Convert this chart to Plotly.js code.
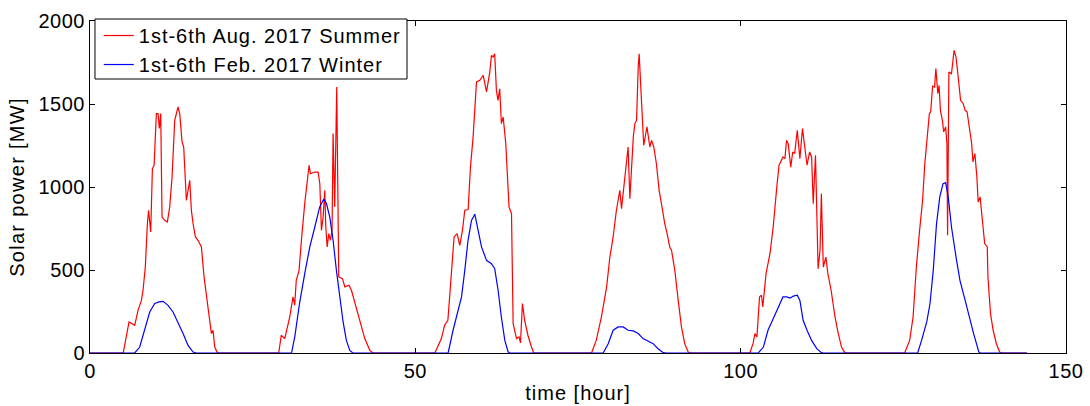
<!DOCTYPE html>
<html>
<head>
<meta charset="utf-8">
<script src="https://cdn.plot.ly/plotly-3.0.1.min.js"></script>
<style>
html,body{margin:0;padding:0;background:#fff}
#chart{width:1090px;height:406px}
#chart .legendtext{letter-spacing:1px}
#chart .legend .scrollbox{clip-path:none !important}
#chart .ytitle{letter-spacing:1.3px}
#chart .xtitle{letter-spacing:1px}
#chart .xtick text,#chart .ytick text{letter-spacing:0.5px}
</style>
</head>
<body>
<div id="chart"></div>
<script>
// ---- data ----
const seriesNames = ["1st-6th Aug. 2017 Summer", "1st-6th Feb. 2017 Winter"];

const summerTime = [0, 5.1, 6.0, 6.36, 6.87, 7.38, 7.9, 8.15, 8.5, 8.82, 9.0, 9.33, 9.59, 9.85, 10.2, 10.46, 10.66, 10.87, 11.07, 11.48, 11.89, 12.25, 12.61, 13.02, 13.53, 13.79, 14.15, 14.4, 14.81, 15.33, 15.58, 15.84, 16.2, 16.6, 17.12, 17.53, 18.04, 18.4, 18.66, 18.91, 19.17, 19.53, 19.8,
  29.0, 29.4, 29.93, 30.7, 31.2, 31.46, 31.7, 32.13, 32.49, 33.0, 33.67, 33.88, 34.55, 35.06, 35.32, 35.57, 35.83, 36.08, 36.24, 36.45, 36.7, 36.95, 37.2, 37.36, 37.61, 37.92, 38.23, 38.8, 39.17, 39.8, 40.18, 40.69, 41.46, 42.23, 43.0, 43.5,
  53.0, 54.0, 54.5, 55.0, 55.5, 55.96, 56.42, 56.83, 57.24, 57.6, 58.12, 58.47, 58.88, 59.4, 59.9, 60.43, 60.94, 61.45, 61.7, 61.96, 62.2, 62.46, 62.7, 62.97, 63.22, 63.5, 63.9, 64.1, 64.4, 64.78, 65.03, 65.55, 65.95, 66.16, 66.46, 66.8, 67.3, 67.85, 68.2,
  77.08, 77.8, 78.6, 79.4, 79.9, 80.4, 80.9, 81.43, 81.69, 82.1, 82.7, 82.97, 83.2, 83.5, 83.74, 84.0, 84.25, 84.4, 84.6, 84.9, 85.1, 85.6, 86.04, 86.3, 86.65, 87.05, 87.47, 87.82, 88.33, 88.7, 89.1, 89.37, 89.88, 90.4, 90.9, 91.4, 91.93, 92.2,
  101.4, 101.9, 102.2, 102.5, 102.9, 103.2, 103.4, 103.9, 104.5, 105.0, 105.2, 105.6, 105.9, 106.5, 106.8, 107.05, 107.3, 107.7, 108.0, 108.3, 108.7, 109.1, 109.5, 109.9, 110.2, 110.6, 110.9, 111.15, 111.5, 111.9, 112.2, 112.4, 112.7, 113.1, 113.4, 113.9, 114.5, 115.0, 115.5, 116.0, 116.3,
  125.2, 125.97, 126.5, 127.0, 127.5, 127.96, 128.3, 128.6, 129.0, 129.2, 129.5, 129.8, 130.0, 130.3, 130.5, 130.7, 131.0, 131.2, 131.5, 131.7, 131.8, 132.0, 132.4, 132.8, 133.1, 133.4, 133.8, 134.2, 134.5, 134.8, 135.1, 135.5, 135.7, 136.0, 136.3, 136.5, 136.8, 137.2, 137.5, 137.9, 138.0, 138.4, 138.8, 139.3, 139.8, 140.1, 144];
const summerPower = [0, 0, 187, 177, 167, 257, 317, 378, 518, 779, 860, 729, 1111, 1131, 1442, 1442, 1352, 1442, 819, 799, 789, 880, 1060, 1402, 1482, 1442, 1271, 1241, 920, 1040, 860, 779, 699, 679, 639, 458, 317, 197, 117, 137, 36, 6, 0,
  0, 107, 87, 217, 338, 288, 438, 498, 679, 900, 1131, 1080, 1090, 1090, 1020, 739, 819, 980, 759, 639, 719, 679, 739, 1322, 880, 1602, 458, 448, 398, 408, 378, 308, 187, 87, 16, 0,
  0, 87, 167, 197, 458, 699, 719, 649, 739, 860, 864, 1120, 1302, 1633, 1643, 1673, 1573, 1693, 1793, 1783, 1803, 1582, 1522, 1592, 1382, 1422, 1261, 1100, 880, 839, 177, 87, 97, 61, 298, 197, 107, 36, 0,
  0, 76, 217, 398, 578, 699, 860, 980, 870, 1040, 1241, 930, 1120, 1302, 1382, 1402, 1723, 1803, 1643, 1382, 1251, 1362, 1241, 1281, 1241, 1140, 980, 900, 779, 719, 639, 619, 498, 317, 157, 56, 6, 0,
  0, 56, 117, 97, 338, 348, 277, 478, 598, 759, 860, 1020, 1131, 1181, 1171, 1281, 1261, 1120, 1211, 1201, 1342, 1171, 1352, 1201, 1131, 1211, 1181, 900, 1191, 508, 619, 960, 518, 578, 478, 378, 217, 117, 36, 2, 0,
  0, 76, 217, 518, 739, 920, 1140, 1261, 1442, 1452, 1608, 1602, 1713, 1563, 1612, 1462, 1402, 1332, 1362, 1261, 709, 1693, 1683, 1823, 1783, 1673, 1522, 1502, 1462, 1452, 1362, 1261, 1151, 1201, 1060, 910, 940, 799, 659, 639, 458, 237, 137, 56, 6, 0, 0];

const winterTime = [0, 6.87, 7.64, 8.4, 9.18, 9.95, 10.6, 11.23, 11.99, 12.76, 13.53, 14.3, 15.07, 15.84, 16.35,
  30.97, 31.47, 32.2, 33.0, 33.78, 34.55, 35.3, 35.93, 36.34, 36.85, 37.36, 37.87, 38.39, 38.9, 39.4, 39.93, 40.4,
  55.04, 55.8, 56.55, 57.1, 57.6, 58.1, 58.63, 59.14, 59.65, 60.17, 60.94, 61.7, 62.2, 62.72, 63.22, 63.75, 64.27, 64.5,
  78.87, 79.64, 80.4, 81.17, 81.94, 82.7, 83.5, 84.25, 85.0, 85.8, 86.55, 87.3, 88.1, 88.6,
  102.7, 103.5, 104.2, 105.0, 105.8, 106.5, 107.05, 107.6, 108.1, 108.7, 109.1, 109.6, 110.2, 110.9, 111.7, 112.4, 112.7,
  127.2, 127.8, 128.6, 129.1, 129.6, 130.1, 130.6, 131.1, 131.5, 131.9, 132.4, 133.1, 133.7, 134.5, 135.0, 135.8, 136.6, 136.8, 144];
const winterPower = [0, 0, 36, 137, 247, 298, 308, 311, 287, 247, 187, 117, 46, 6, 0,
  0, 97, 298, 478, 639, 759, 880, 928, 900, 819, 679, 498, 338, 187, 76, 16, 0,
  0, 137, 257, 338, 498, 679, 799, 836, 739, 639, 558, 538, 508, 378, 217, 76, 6, 0,
  0, 56, 137, 157, 157, 137, 133, 117, 87, 70, 56, 26, 2, 0,
  0, 36, 137, 207, 277, 338, 338, 331, 343, 348, 317, 197, 137, 76, 26, 2, 0,
  0, 76, 187, 298, 498, 779, 940, 1020, 1027, 940, 759, 578, 438, 317, 237, 117, 6, 0, 0];

const xTicks = [0, 50, 100, 150];
const yTicks = [0, 500, 1000, 1500, 2000];
const xTitle = "time [hour]";
const yTitle = "Solar power [MW]";

// ---- chart ----
const fontFam = "Arial, 'Liberation Sans', Helvetica, sans-serif";
const traces = [
  {x: summerTime, y: summerPower, name: seriesNames[0], type: "scatter", mode: "lines",
   line: {color: "#ff0000", width: 1.2}},
  {x: winterTime, y: winterPower, name: seriesNames[1], type: "scatter", mode: "lines",
   line: {color: "#0000ff", width: 1.2}}
];
const axisCommon = {
  showline: true, linecolor: "#000", linewidth: 1, mirror: "ticks",
  ticks: "inside", ticklen: 5, tickcolor: "#000", tickwidth: 1,
  showgrid: false, zeroline: false,
  tickfont: {family: fontFam, size: 20, color: "#000"}
};
const layout = {
  width: 1090, height: 406,
  margin: {l: 90, r: 24, t: 21, b: 53},
  paper_bgcolor: "#fff", plot_bgcolor: "#fff",
  showlegend: true,
  font: {family: fontFam, color: "#000"},
  xaxis: Object.assign({}, axisCommon, {
    range: [0, 150], tickvals: xTicks, ticktext: xTicks.map(String),
    title: {text: xTitle, font: {family: fontFam, size: 20, color: "#000"}, standoff: 4}
  }),
  yaxis: Object.assign({}, axisCommon, {
    range: [0, 2000], tickvals: yTicks, ticktext: yTicks.map(String),
    title: {text: yTitle, font: {family: fontFam, size: 20, color: "#000"}, standoff: 10}
  }),
  // legend frame (MATLAB-style tight box)
  shapes: [{
    type: "rect", xref: "paper", yref: "paper", layer: "above",
    x0: 0.0051, x1: 0.3248, y0: 0.8253, y1: 1.006,
    line: {color: "#000", width: 1}, fillcolor: "#fff"
  }],
  legend: {
    x: 0.009, y: 1.015, xanchor: "left", yanchor: "top",
    bgcolor: "rgba(0,0,0,0)", borderwidth: 0,
    font: {family: fontFam, size: 20, color: "#000"},
    itemwidth: 30, tracegroupgap: 0
  }
};
Plotly.newPlot("chart", traces, layout, {staticPlot: true, displayModeBar: false});
</script>
</body>
</html>
